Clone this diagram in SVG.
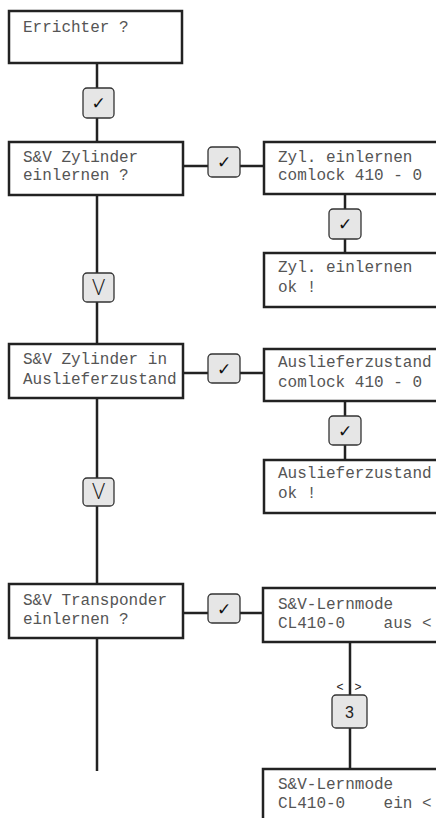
<svg xmlns="http://www.w3.org/2000/svg" width="436" height="818" viewBox="0 0 436 818">
<style>
.box{fill:#fff;stroke:#222;stroke-width:2.5}
.btn{fill:#e6e6e6;stroke:#333;stroke-width:1.3}
.ln{stroke:#222;stroke-width:2.5;fill:none}
.t{font-family:"Liberation Mono","DejaVu Sans Mono",monospace;font-size:16px;fill:#555}
.ck{font-family:"DejaVu Sans",sans-serif;font-size:17px;fill:#111;text-anchor:middle}
.s{font-family:"Liberation Sans",Arial,sans-serif;fill:#222;text-anchor:middle}
.v{font-family:"Open Sans","Liberation Sans",sans-serif;font-weight:300;font-size:22px;fill:#222;text-anchor:middle}
</style>
<rect width="436" height="818" fill="#fff"/>
<g id="connectors">
<path class="ln" d="M97 63V142M97 195V344M97 398V584M97 638V771"/>
<path class="ln" d="M183 166H264M183 373H264M183 613H264"/>
<path class="ln" d="M345 194V253M345 401V460M350 642V769"/>
</g>
<g id="n1"><rect class="box" x="9" y="11" width="173" height="52"/><text class="t" x="23" y="32">Errichter ?</text></g>
<g id="b1"><rect class="btn" x="83" y="88" width="31" height="30" rx="4"/><text class="ck" x="98.5" y="109">✓</text></g>
<g id="n2"><rect class="box" x="9" y="142" width="174" height="53"/><text class="t" x="23" y="162">S&amp;V Zylinder</text><text class="t" x="23" y="180">einlernen ?</text></g>
<g id="b2"><rect class="btn" x="208" y="147" width="32" height="30" rx="4"/><text class="ck" x="224" y="168">✓</text></g>
<g id="n3"><rect class="box" x="264" y="142" width="180" height="52"/><text class="t" x="278" y="162">Zyl. einlernen</text><text class="t" x="278" y="180">comlock 410 - 0</text></g>
<g id="b3"><rect class="btn" x="329" y="209" width="32" height="30" rx="4"/><text class="ck" x="345" y="230">✓</text></g>
<g id="n4"><rect class="box" x="264" y="253" width="180" height="54"/><text class="t" x="278" y="272">Zyl. einlernen</text><text class="t" x="278" y="292">ok !</text></g>
<g id="v1"><rect class="btn" x="83" y="273" width="31" height="29" rx="4"/><text class="v" x="98.5" y="295">V</text></g>
<g id="n5"><rect class="box" x="9" y="344" width="174" height="54"/><text class="t" x="23" y="364">S&amp;V Zylinder in</text><text class="t" x="23" y="384">Auslieferzustand</text></g>
<g id="b4"><rect class="btn" x="208" y="354" width="32" height="29" rx="4"/><text class="ck" x="224" y="375">✓</text></g>
<g id="n6"><rect class="box" x="264" y="349" width="180" height="52"/><text class="t" x="278" y="367">Auslieferzustand</text><text class="t" x="278" y="387">comlock 410 - 0</text></g>
<g id="b5"><rect class="btn" x="329" y="416" width="32" height="29" rx="4"/><text class="ck" x="345" y="437">✓</text></g>
<g id="n7"><rect class="box" x="264" y="460" width="180" height="53"/><text class="t" x="278" y="478">Auslieferzustand</text><text class="t" x="278" y="498">ok !</text></g>
<g id="v2"><rect class="btn" x="83" y="478" width="31" height="28" rx="4"/><text class="v" x="98.5" y="499">V</text></g>
<g id="n8"><rect class="box" x="9" y="584" width="174" height="54"/><text class="t" x="23" y="605">S&amp;V Transponder</text><text class="t" x="23" y="624">einlernen ?</text></g>
<g id="b6"><rect class="btn" x="208" y="594" width="32" height="29" rx="4"/><text class="ck" x="224" y="615">✓</text></g>
<g id="n9"><rect class="box" x="263" y="588" width="181" height="54"/><text class="t" x="278" y="609">S&amp;V-Lernmode</text><text class="t" x="278" y="628" xml:space="preserve">CL410-0    aus &lt;</text></g>
<g id="b7"><text class="s" x="340" y="691" font-size="12">&lt;</text><text class="s" x="358" y="691" font-size="12">&gt;</text><rect class="btn" x="332" y="695" width="35" height="33" rx="4"/><text class="s" x="349.5" y="718" font-size="16">3</text></g>
<g id="n10"><rect class="box" x="263" y="769" width="181" height="60"/><text class="t" x="278" y="789">S&amp;V-Lernmode</text><text class="t" x="278" y="808" xml:space="preserve">CL410-0    ein &lt;</text></g>
</svg>
